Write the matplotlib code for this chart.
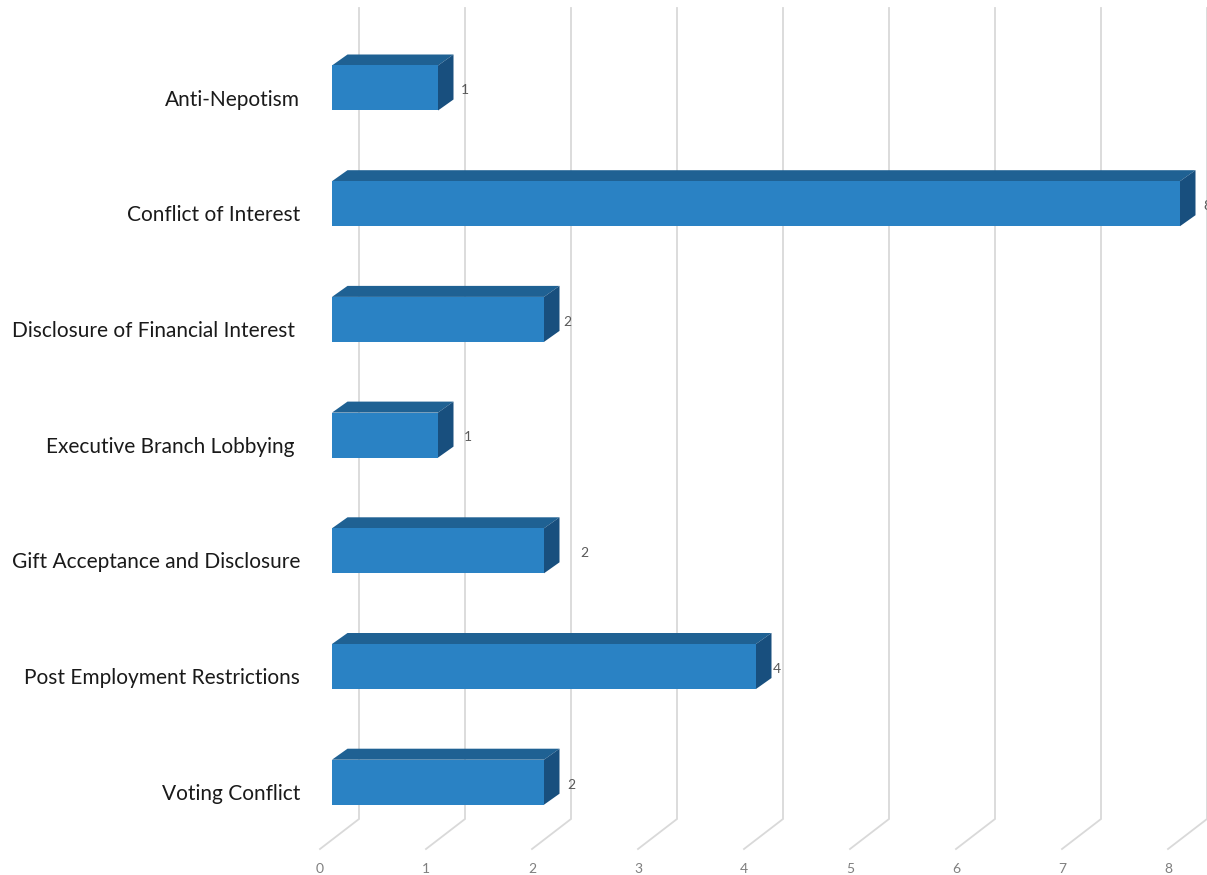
import matplotlib
matplotlib.use('Agg')
import matplotlib.pyplot as plt
from matplotlib.patches import Polygon

categories = ['Anti-Nepotism', 'Conflict of Interest', 'Disclosure of Financial Interest ',
              'Executive Branch Lobbying ', 'Gift Acceptance and Disclosure',
              'Post Employment Restrictions', 'Voting Conflict']
counts = [1, 8, 2, 1, 2, 4, 2]
ticks = [0, 1, 2, 3, 4, 5, 6, 7, 8]
# label nudges seen in the original (value units)
label_dx = [0.22, 0.22, 0.18, 0.24, 0.34, 0.16, 0.22]

front = '#2a82c4'
top = '#1f6193'
side = '#184f7e'
grid = '#d9d9d9'

plt.rcParams['font.family'] = ['Lato', 'DejaVu Sans']

fig = plt.figure(figsize=(12.07, 8.75), dpi=100)
ax = fig.add_axes([0, 0, 1, 1])
# 1 unit = 106 px, value 0 of front plane at px 332; category step 115.7 px from px 88
ax.set_xlim(-332 / 106, (1207 - 332) / 106)
ax.set_ylim((875 - 88) / 115.7, -88 / 115.7)
ax.axis('off')

wall_dx = 27 / 106      # back wall offset from bar front plane
floor_dx = 39 / 106
floor_dy = 30 / 115.7
wall_top = -80 / 115.7
wall_bot = 731 / 115.7
half_h = 22.5 / 115.7
depth_x = 15.5 / 106
depth_y = 11 / 115.7

for t in ticks:
    xb = t + wall_dx
    ax.plot([xb, xb, xb - floor_dx], [wall_top, wall_bot, wall_bot + floor_dy],
            color=grid, lw=1.3, solid_joinstyle='miter', zorder=1)
    ax.text(xb - floor_dx, wall_bot + floor_dy + 20 / 115.7, str(t), ha='center', va='center',
            fontsize=10, color='#7f7f7f')

for i, (name, v) in enumerate(zip(categories, counts)):
    y0, y1 = i - half_h, i + half_h
    ax.add_patch(Polygon([(0, y0), (v, y0), (v + depth_x, y0 - depth_y), (depth_x, y0 - depth_y)],
                         closed=True, fc=top, ec='none', zorder=3))
    ax.add_patch(Polygon([(v, y0), (v + depth_x, y0 - depth_y), (v + depth_x, y1 - depth_y), (v, y1)],
                         closed=True, fc=side, ec='none', zorder=3))
    ax.add_patch(Polygon([(0, y0), (v, y0), (v, y1), (0, y1)],
                         closed=True, fc=front, ec='none', zorder=4))
    ax.text(v + label_dx[i], i + 0.02, str(v), ha='left', va='center', fontsize=10, color='#595959',
            clip_on=True, zorder=5)
    ax.text(-32 / 106, i + 0.1, name, ha='right', va='center', fontsize=15, color='#1a1a1a')

fig.savefig('out.png', dpi=100)
